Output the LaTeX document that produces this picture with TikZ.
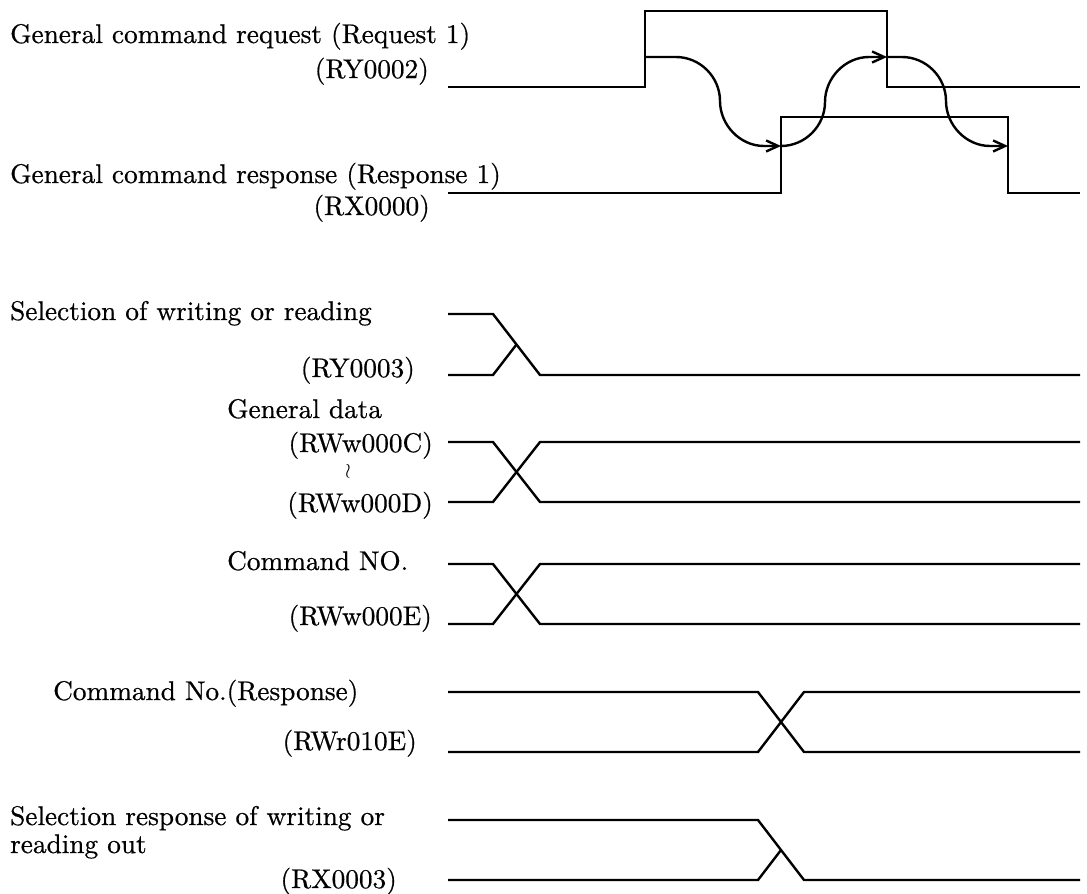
\documentclass[tikz,border=0pt]{standalone}
\usepackage{graphicx}
\usepackage{fontspec}
\newfontfamily\labfont{lmroman10-regular.otf}[FakeBold=0.6]
\newcommand{\lab}[1]{\scalebox{1.01}[1]{#1}}
\usetikzlibrary{arrows.meta}
\begin{document}
\begin{tikzpicture}[x=1pt,y=-1pt,
  sig/.style={line width=2.4pt,line join=miter},
  flow/.style={line width=2.4pt,-{Straight Barb[length=12pt,width=11pt,line width=2.4pt]}},
  lbl/.style={inner sep=0pt,font=\labfont\fontsize{27}{30}\selectfont},
  lw/.style={lbl,anchor=base west},
  le/.style={lbl,anchor=base east}]
\useasboundingbox (0,0) rectangle (1087,894);
% labels
\node[lw] (l1) at (10,43) {\lab{General command request (Request 1)}};
\node[le] (l2) at (429,78) {\lab{(RY0002)}};
\node[lw] (l3) at (10,183) {\lab{General command response (Response 1)}};
\node[le] (l4) at (430,215) {\lab{(RX0000)}};
\node[lw] (l5) at (10,320) {\lab{Selection of writing or reading}};
\node[le] (l6) at (415,377) {\lab{(RY0003)}};
\node[lw] (l7) at (227,418) {\lab{General data}};
\node[le] (l8) at (433,452) {\lab{(RWw000C)}};
\node[inner sep=0pt] (l9) at (348,471) {\fontsize{20}{20}\selectfont$\wr$};
\node[le] (l10) at (433,512) {\lab{(RWw000D)}};
\node[lw] (l11) at (227,570) {\lab{Command NO.}};
\node[le] (l12) at (432,625) {\lab{(RWw000E)}};
\node[lw] (l13) at (53,700) {\lab{Command No.(Response)}};
\node[le] (l14) at (417,750) {\lab{(RWr010E)}};
\node[lw] (l15) at (10,825) {\lab{Selection response of writing or}};
\node[lw] (l16) at (10,853) {\lab{reading out}};
\node[le] (l17) at (397,888) {\lab{(RX0003)}};
% request / response
\draw[sig] (448,87) -- (645,87) -- (645,11) -- (887,11) -- (887,87) -- (1080,87);
\draw[sig] (448,193) -- (781,193) -- (781,117) -- (1008,117) -- (1008,193) -- (1080,193);
\coordinate (a1) at (645,57);
\coordinate (a2) at (781,146);
\coordinate (a3) at (887,57);
\coordinate (a4) at (1008,146);
\draw[flow] (a1) -- (676,57) .. controls (700,57) and (720,77) .. (720,101) .. controls (720,125) and (740,146) .. (764,146) -- (a2);
\draw[flow] (a2) .. controls (805,146) and (825,126) .. (825,102) .. controls (825,78) and (845,57) .. (869,57) -- (a3);
\draw[flow] (a3) -- (902,57) .. controls (926,57) and (946,77) .. (946,101) .. controls (946,125) and (966,146) .. (990,146) -- (a4);
% RY0003
\draw[sig] (448,314) -- (493,314) -- (540,375) -- (1080,375);
\draw[sig] (448,375) -- (493,375) -- (516.5,344.5);
% RWw000C/D
\draw[sig] (448,442) -- (493,442) -- (540,502) -- (1080,502);
\draw[sig] (448,502) -- (493,502) -- (540,442) -- (1080,442);
% RWw000E
\draw[sig] (448,564) -- (493,564) -- (540,624) -- (1080,624);
\draw[sig] (448,624) -- (493,624) -- (540,564) -- (1080,564);
% RWr010E
\draw[sig] (448,692) -- (758,692) -- (804,752) -- (1080,752);
\draw[sig] (448,752) -- (758,752) -- (804,692) -- (1080,692);
% RX0003
\draw[sig] (448,820) -- (758,820) -- (804,880) -- (1080,880);
\draw[sig] (448,880) -- (758,880) -- (781,850);
\end{tikzpicture}
\end{document}
